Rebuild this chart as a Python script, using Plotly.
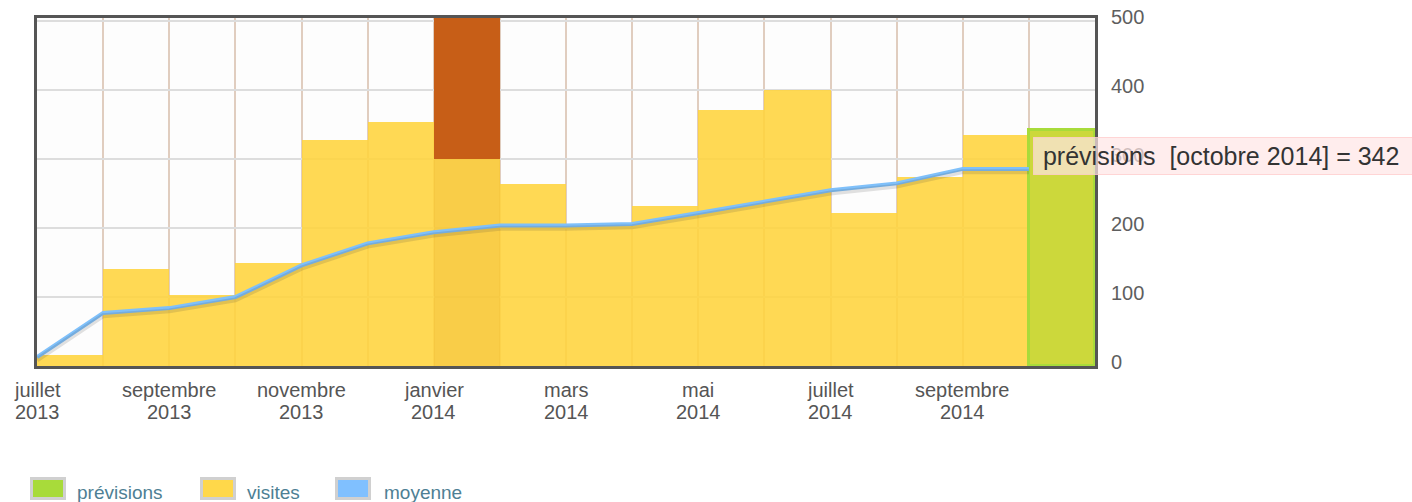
import plotly.graph_objects as go

# ---- data ----
months = ["juillet 2013", "août 2013", "septembre 2013", "octobre 2013", "novembre 2013",
          "décembre 2013", "janvier 2014", "février 2014", "mars 2014", "avril 2014",
          "mai 2014", "juin 2014", "juillet 2014", "août 2014", "septembre 2014", "octobre 2014"]
visites = [16, 141, 103, 149, 328, 354, 301, 264, 203, 232, 371, 401, 222, 274, 335]
depassement_janvier = 320          # part of the janvier column drawn above the visits (clipped)
previsions_octobre = 342
moyenne = [13, 77, 84, 100, 146, 178, 194, 204, 204, 206, 222, 238, 255, 265, 286, 286]
tick_months = ["juillet", "septembre", "novembre", "janvier", "mars", "mai", "juillet", "septembre"]
tick_years = ["2013", "2013", "2013", "2014", "2014", "2014", "2014", "2014"]
y_ticks = [0, 100, 200, 300, 400, 500]

# ---- layout geometry (pixels) ----
W, H = 1412, 502
L, R, T, B = 37, 1095, 18, 366
PW, PH = R - L, B - T


def px(x):
    return (x - L) / PW


def py(y):
    return (B - y) / PH


FONT = "Liberation Sans, Arial, sans-serif"
YELLOW = "rgba(255,212,60,0.88)"
YELLOW_HI = "rgba(248,200,52,0.9)"
ORANGE = "#C75E17"
GREEN = "#CCD83B"
GREEN_EDGE = "#A8DB3A"
BLUE = "#7FC0FA"

n = len(visites)
bar_x = [i + 0.5 for i in range(n)]
bar_colors = [YELLOW_HI if m == "janvier 2014" else YELLOW for m in months[:n]]
jan_idx = months.index("janvier 2014")

fig = go.Figure()

fig.add_trace(go.Bar(x=bar_x, y=visites, width=1, marker=dict(color=bar_colors, line=dict(width=0)),
                     name="visites", hoverinfo="skip"))
fig.add_trace(go.Bar(x=[jan_idx + 0.5], y=[depassement_janvier], base=[visites[jan_idx]], width=1,
                     marker=dict(color=ORANGE, line=dict(width=0)), name="janvier", hoverinfo="skip"))
fig.add_trace(go.Bar(x=[n + 0.5], y=[previsions_octobre], width=1,
                     marker=dict(color=GREEN, line=dict(color=GREEN_EDGE, width=3)),
                     name="prévisions", hoverinfo="skip"))

line_x = list(range(len(moyenne)))
ymax = 505
# shadow (drawn on a slightly shifted overlay axis, so it sits a little below the line)
fig.add_trace(go.Scatter(x=line_x, y=moyenne, mode="lines", yaxis="y2",
                         line=dict(color="rgba(60,60,60,0.15)", width=5), hoverinfo="skip"))
fig.add_trace(go.Scatter(x=line_x, y=moyenne, mode="lines",
                         line=dict(color=BLUE, width=4), name="moyenne", hoverinfo="skip"))

tickvals_x = list(range(0, 17))
ticktext_x = [""] * len(tickvals_x)

fig.update_layout(
    width=W, height=H,
    margin=dict(l=L, r=W - R, t=T, b=H - B, pad=0, autoexpand=False),
    paper_bgcolor="white", plot_bgcolor="#FDFDFD",
    barmode="overlay", bargap=0, showlegend=False,
    font=dict(family=FONT, color="#555555"),
    xaxis=dict(range=[0, 16], tickvals=tickvals_x, ticktext=ticktext_x,
               showgrid=True, gridcolor="rgba(200,165,140,0.55)", gridwidth=2,
               showline=True, linecolor="#555555", linewidth=3, mirror=True,
               zeroline=False, ticks="", fixedrange=True, automargin=False),
    yaxis=dict(range=[0, ymax], tickvals=y_ticks, side="right",
               showgrid=True, gridcolor="#DDDDDD", gridwidth=2,
               showline=True, linecolor="#555555", linewidth=3, mirror=True,
               zeroline=False, ticks="", ticklabelstandoff=9, ticklabelshift=-4,
               automargin=False,
               tickfont=dict(size=20, color="#5E5E5E", family=FONT)),
    yaxis2=dict(range=[4, ymax + 4], overlaying="y", visible=False),
)

# x tick labels (two lines, tight spacing)
annotations = []
for k, (m, yv) in enumerate(zip(tick_months, tick_years)):
    xv = 2 * k
    annotations.append(dict(x=xv, xref="x", y=py(390), yref="paper", text=m, showarrow=False,
                            xanchor="center", yanchor="middle",
                            font=dict(size=20, color="#555555", family=FONT)))
    annotations.append(dict(x=xv, xref="x", y=py(412), yref="paper", text=yv, showarrow=False,
                            xanchor="center", yanchor="middle",
                            font=dict(size=20, color="#555555", family=FONT)))

# tooltip
annotations.append(dict(x=px(1033), xref="paper", y=py(156), yref="paper",
                        text=f"\u00a0prévisions\u00a0\u00a0[{months[-1]}] = {previsions_octobre}",
                        showarrow=False, xanchor="left", yanchor="middle", align="left",
                        width=382, height=32,
                        bgcolor="rgba(255,230,230,0.7)", bordercolor="rgba(255,205,205,0.8)",
                        borderwidth=1, borderpad=2,
                        font=dict(size=25, color="#333333", family=FONT)))

# legend (manual)
legend_items = [("prévisions", "#A8DB3A", 30, 75), ("visites", "#FFD84A", 200, 245),
                ("moyenne", "#80C0FF", 335, 382)]
shapes = []
for label, col, x0, tx in legend_items:
    shapes.append(dict(type="rect", xref="paper", yref="paper",
                       x0=px(x0 + 1.5), x1=px(x0 + 34.5), y0=py(478.5), y1=py(498.5),
                       fillcolor=col, line=dict(color="#D0D0D0", width=3)))
    annotations.append(dict(x=px(tx), xref="paper", y=py(492), yref="paper", text=label,
                            showarrow=False, xanchor="left", yanchor="middle",
                            font=dict(size=19, color="#4E7F94", family=FONT)))

fig.update_layout(annotations=annotations, shapes=shapes)

fig.write_html("out.html", config={"displayModeBar": False},
               post_script="document.body.style.margin='0';document.body.style.padding='0';"
                           "document.body.style.overflow='hidden';")
